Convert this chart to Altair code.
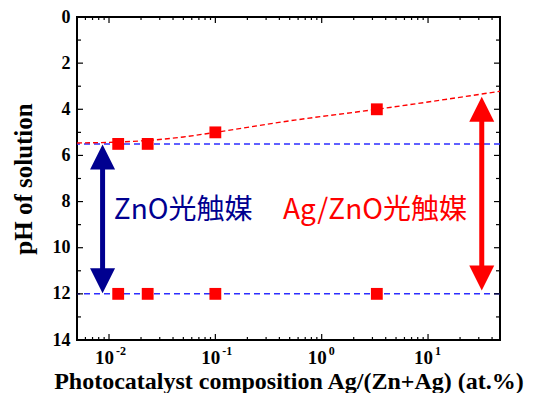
import altair as alt
import pandas as pd

# ---- data ----
composition = [0.0122, 0.0231, 0.1, 3.3]          # Ag/(Zn+Ag) at.%
ph_ag_zno = [5.5, 5.5, 5.0, 4.0]                  # Ag/ZnO photocatalyst
ph_zno = [12.0, 12.0, 12.0, 12.0]                 # ZnO photocatalyst

fit_x = [0.005, 0.0122, 0.0231, 0.05, 0.1, 0.5, 3.3, 47.5]
fit_ph = [5.46, 5.42, 5.35, 5.2, 5.0, 4.5, 4.0, 3.22]

ref_levels = [5.5, 12.0]

arrow_x = [0.0087, 32.0]
arrow_top = [5.53, 3.46]
arrow_bottom = [11.97, 11.85]
arrow_colors = ["#000090", "#ff0000"]

label_x = [0.0111, 0.433]
label_ph = [8.43, 8.43]
label_text = ["ZnO光触媒", "Ag/ZnO光触媒"]
label_colors = ["#000090", "#ff0000"]

x_decades = [0.01, 0.1, 1, 10]
x_exponents = ["-2", "-1", "0", "1"]
x_minor_mult = [2, 3, 4, 5, 6, 7, 8, 9]
x_minor_exp = [-3, -2, -1, 0, 1]
y_major = [0, 2, 4, 6, 8, 10, 12, 14]
y_minor = [1, 3, 5, 7, 9, 11, 13]

X_MIN, X_MAX = 0.005, 47.5
W, H = 423, 323
SERIF = "Liberation Serif"
CJK = "Noto Sans CJK JP"

x_minor = [m * 10 ** e for e in x_minor_exp for m in x_minor_mult
           if X_MIN < m * 10 ** e < X_MAX]

xscale = alt.Scale(type="log", domain=[X_MIN, X_MAX], nice=False)
yscale = alt.Scale(domain=[0, 14], reverse=True, nice=False, zero=False)
xaxis = alt.Axis(labels=False, ticks=False, domain=False, grid=False,
                 title="Photocatalyst composition Ag/(Zn+Ag) (at.%)",
                 titleFont=SERIF, titleFontSize=24, titleFontWeight="bold",
                 titleColor="black", titlePadding=29)
yaxis = alt.Axis(values=y_major, ticks=False, tickSize=0, domain=False, grid=False,
                 labelFont=SERIF, labelFontSize=18, labelFontWeight="bold",
                 labelColor="black", labelPadding=7,
                 title="pH of solution", titleFont=SERIF, titleFontSize=25,
                 titleFontWeight="bold", titleColor="black", titlePadding=16)


def X(field):
    return alt.X(field, type="quantitative", scale=xscale, axis=xaxis)


def Y(field):
    return alt.Y(field, type="quantitative", scale=yscale, axis=yaxis)


pts = pd.DataFrame({
    "x": composition * 2,
    "ph": ph_ag_zno + ph_zno,
})
fit = pd.DataFrame({"x": fit_x, "ph": fit_ph})
levels = pd.DataFrame({"ph": ref_levels})
arrows = pd.DataFrame({"x": arrow_x, "top": arrow_top, "bot": arrow_bottom,
                       "c": arrow_colors})
labels = pd.DataFrame({"x": label_x, "ph": label_ph, "t": label_text,
                       "c": label_colors})
decades = pd.DataFrame({"x": x_decades, "e": x_exponents})
xminor = pd.DataFrame({"x": x_minor})
ymaj = pd.DataFrame({"ph": y_major})
ymin = pd.DataFrame({"ph": y_minor})

hlines = alt.Chart(levels).mark_rule(color="#2e2eff", strokeWidth=1.5,
                                      strokeDash=[6, 4]).encode(y=Y("ph"))

curve = alt.Chart(fit).mark_line(color="#ff0000", strokeWidth=1.4,
                                 strokeDash=[5, 3], interpolate="monotone").encode(
    x=X("x"), y=Y("ph"))

points = alt.Chart(pts).mark_point(shape="square", filled=True, size=140,
                                   color="#ff0000", opacity=1).encode(
    x=X("x"), y=Y("ph"))

shafts = alt.Chart(arrows).mark_rule(strokeWidth=5, yOffset=12, y2Offset=-12).encode(
    x=X("x"), y=Y("top"), y2="bot", color=alt.Color("c:N", scale=None))

head_up = alt.Chart(arrows).mark_point(shape="M0,0L1,2L-1,2Z", filled=True,
                                       size=625, opacity=1).encode(
    x=X("x"), y=Y("top"), color=alt.Color("c:N", scale=None))

head_down = alt.Chart(arrows).mark_point(shape="M0,0L1,-2L-1,-2Z", filled=True,
                                         size=625, opacity=1).encode(
    x=X("x"), y=Y("bot"), color=alt.Color("c:N", scale=None))

texts = alt.Chart(labels).mark_text(font=CJK, fontSize=28, align="left",
                                    baseline="middle").encode(
    x=X("x"), y=Y("ph"), text="t:N", color=alt.Color("c:N", scale=None))

# tick labels 10^n
base_lbl = alt.Chart(decades).mark_text(font=SERIF, fontSize=19, fontWeight="bold",
                                        align="right", baseline="alphabetic",
                                        dx=5, color="black").encode(
    x=X("x"), y=alt.value(H + 24), text=alt.value("10"))
exp_lbl = alt.Chart(decades).mark_text(font=SERIF, fontSize=12, fontWeight="bold",
                                       align="left", baseline="alphabetic",
                                       dx=7, color="black").encode(
    x=X("x"), y=alt.value(H + 15), text="e:N")

# inward ticks on all four sides
tk = dict(color="black", strokeWidth=1.2)
xt_bot_major = alt.Chart(decades).mark_rule(**tk).encode(
    x=X("x"), y=alt.value(H), y2=alt.value(H - 6))
xt_top_major = alt.Chart(decades).mark_rule(**tk).encode(
    x=X("x"), y=alt.value(0), y2=alt.value(6))
xt_bot_minor = alt.Chart(xminor).mark_rule(**tk).encode(
    x=X("x"), y=alt.value(H), y2=alt.value(H - 3))
xt_top_minor = alt.Chart(xminor).mark_rule(**tk).encode(
    x=X("x"), y=alt.value(0), y2=alt.value(3))
yt_left_major = alt.Chart(ymaj).mark_rule(**tk).encode(
    y=Y("ph"), x=alt.value(0), x2=alt.value(6))
yt_right_major = alt.Chart(ymaj).mark_rule(**tk).encode(
    y=Y("ph"), x=alt.value(W), x2=alt.value(W - 6))
yt_left_minor = alt.Chart(ymin).mark_rule(**tk).encode(
    y=Y("ph"), x=alt.value(0), x2=alt.value(4))
yt_right_minor = alt.Chart(ymin).mark_rule(**tk).encode(
    y=Y("ph"), x=alt.value(W), x2=alt.value(W - 4))

chart = alt.layer(
    hlines, curve, shafts, head_up, head_down, points, texts,
    xt_bot_major, xt_top_major, xt_bot_minor, xt_top_minor,
    yt_left_major, yt_right_major, yt_left_minor, yt_right_minor,
    base_lbl, exp_lbl,
).properties(
    width=W, height=H,
    padding={"left": 69, "top": 9, "right": 35, "bottom": 53},
    autosize=alt.AutoSizeParams(type="none"),
).configure(
    background="white",
    view=alt.ViewConfig(stroke="black", strokeWidth=2),
)

chart.save("out.html", embed_options={"renderer": "svg", "actions": False})
